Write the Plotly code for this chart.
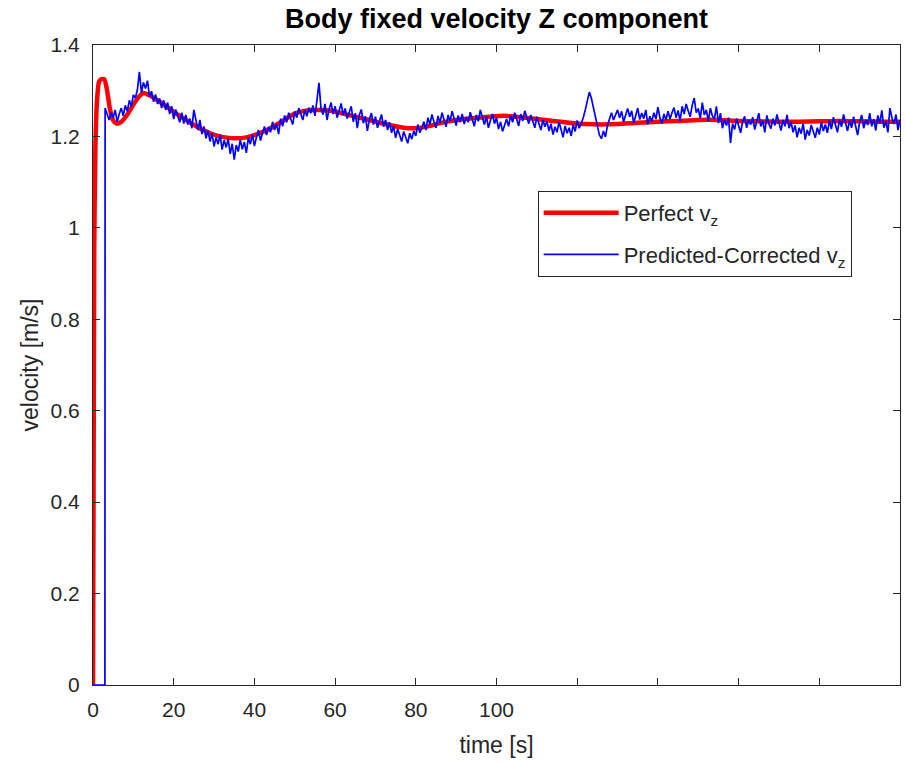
import numpy as np
import plotly.graph_objects as go

# ---------------- data ----------------
perfect_t = [0, 0.3, 0.6, 1.0, 1.5, 2.0, 2.8, 3.5, 4.2, 5.0, 5.8, 7, 8.5, 10, 11.5, 12.5,
             14, 16, 18, 20, 23, 26, 29, 32, 35, 38, 41, 44, 47, 50, 53, 56, 59, 62, 65,
             68, 71, 74, 77, 80, 83, 86, 90, 94, 98, 102, 106, 110, 114, 118, 122, 126,
             130, 135, 140, 145, 150, 155, 160, 165, 170, 175, 180, 185, 190, 195, 200]
perfect_v = [0, 0.95, 1.18, 1.28, 1.32, 1.325, 1.325, 1.30, 1.26, 1.235, 1.228, 1.232,
             1.248, 1.270, 1.288, 1.295, 1.290, 1.279, 1.267, 1.254, 1.236, 1.220, 1.207,
             1.199, 1.196, 1.198, 1.206, 1.218, 1.234, 1.250, 1.257, 1.258, 1.256, 1.250,
             1.243, 1.237, 1.230, 1.224, 1.219, 1.218, 1.222, 1.229, 1.236, 1.240, 1.243,
             1.245, 1.242, 1.238, 1.234, 1.230, 1.227, 1.226, 1.227, 1.230, 1.232, 1.234,
             1.236, 1.236, 1.234, 1.233, 1.232, 1.232, 1.233, 1.234, 1.233, 1.232, 1.232]

# predicted-corrected: zero before the filter starts, then samples every 0.5 s from t = 3.0 s
pc_start_t = [0, 2.95]
pc_start_v = [0, 0]
pc_t0 = 3.0
pc_dt = 0.5
pc_v = [
    1.262, 1.248, 1.236, 1.252, 1.241, 1.258, 1.232, 1.249, 1.262, 1.245, 1.268, 1.255, 1.279, 1.266, 1.291, 1.284, 1.302, 1.341, 1.296, 1.318,
    1.305, 1.322, 1.287, 1.299, 1.276, 1.292, 1.271, 1.283, 1.262, 1.279, 1.258, 1.274, 1.249, 1.266, 1.238, 1.259, 1.244, 1.231, 1.252, 1.228,
    1.247, 1.226, 1.239, 1.218, 1.258, 1.231, 1.214, 1.236, 1.205, 1.222, 1.196, 1.213, 1.189, 1.207, 1.178, 1.198, 1.183, 1.204, 1.171, 1.192,
    1.176, 1.195, 1.162, 1.184, 1.149, 1.181, 1.167, 1.193, 1.172, 1.188, 1.164, 1.197, 1.183, 1.205, 1.179, 1.198, 1.214, 1.191, 1.207, 1.222,
    1.203, 1.221, 1.209, 1.232, 1.214, 1.227, 1.205, 1.239, 1.222, 1.246, 1.231, 1.252, 1.238, 1.226, 1.255, 1.241, 1.262, 1.247, 1.236, 1.258,
    1.244, 1.263, 1.251, 1.268, 1.245, 1.279, 1.317, 1.262, 1.248, 1.271, 1.236, 1.259, 1.274, 1.249, 1.266, 1.241, 1.258, 1.272, 1.247, 1.261,
    1.239, 1.255, 1.266, 1.232, 1.251, 1.218, 1.247, 1.259, 1.229, 1.244, 1.212, 1.238, 1.251, 1.226, 1.243, 1.219, 1.235, 1.248, 1.221, 1.236,
    1.214, 1.231, 1.208, 1.222, 1.197, 1.216, 1.203, 1.189, 1.211, 1.198, 1.185, 1.207, 1.194, 1.212, 1.201, 1.226, 1.208, 1.219, 1.232, 1.214,
    1.241, 1.226, 1.248, 1.232, 1.219, 1.245, 1.229, 1.252, 1.236, 1.221, 1.247, 1.233, 1.255, 1.238, 1.224, 1.246, 1.231, 1.249, 1.227, 1.242,
    1.231, 1.253, 1.236, 1.222, 1.247, 1.233, 1.258, 1.239, 1.226, 1.244, 1.219, 1.235, 1.249, 1.228, 1.241, 1.216, 1.232, 1.211, 1.227, 1.238,
    1.222, 1.246, 1.231, 1.252, 1.238, 1.223, 1.249, 1.234, 1.256, 1.241, 1.228, 1.247, 1.232, 1.219, 1.243, 1.229, 1.214, 1.236, 1.221, 1.233,
    1.212, 1.228, 1.204, 1.221, 1.209, 1.232, 1.215, 1.198, 1.223, 1.207, 1.219, 1.201, 1.226, 1.211, 1.235, 1.218, 1.229, 1.241, 1.258, 1.276,
    1.297, 1.284, 1.262, 1.241, 1.218, 1.203, 1.195, 1.212, 1.199, 1.224, 1.238, 1.252, 1.236, 1.249, 1.258, 1.241, 1.255, 1.232, 1.247, 1.261,
    1.243, 1.256, 1.229, 1.248, 1.262, 1.237, 1.251, 1.239, 1.258, 1.226, 1.244, 1.233, 1.252, 1.238, 1.264, 1.241, 1.228, 1.249, 1.236, 1.255,
    1.238, 1.252, 1.263, 1.241, 1.257, 1.234, 1.266, 1.249, 1.271, 1.256, 1.243, 1.268, 1.284, 1.252, 1.261, 1.239, 1.274, 1.247, 1.258, 1.233,
    1.262, 1.245, 1.238, 1.266, 1.229, 1.251, 1.218, 1.236, 1.224, 1.241, 1.186, 1.228, 1.215, 1.239, 1.221, 1.208, 1.233, 1.244, 1.219, 1.236,
    1.226, 1.242, 1.215, 1.237, 1.251, 1.222, 1.234, 1.209, 1.246, 1.228, 1.217, 1.239, 1.224, 1.248, 1.231, 1.213, 1.236, 1.222, 1.247, 1.218,
    1.232, 1.209, 1.224, 1.198, 1.219, 1.206, 1.228, 1.193, 1.214, 1.202, 1.225, 1.211, 1.197, 1.219, 1.204, 1.231, 1.212, 1.226, 1.208, 1.235,
    1.216, 1.242, 1.224, 1.209, 1.237, 1.221, 1.248, 1.229, 1.212, 1.235, 1.219, 1.243, 1.226, 1.203, 1.232, 1.247, 1.218, 1.236, 1.225, 1.251,
    1.222, 1.238, 1.213, 1.246, 1.229, 1.257, 1.219, 1.234, 1.209, 1.262, 1.241, 1.227, 1.248, 1.214, 1.236,
]

x_tickvals = [0, 20, 40, 60, 80, 100]
x_ticktext = ["0", "20", "40", "60", "80", "100"]
x_unlabeled_ticks = [120, 140, 160, 180]
y_tickvals = [0, 0.2, 0.4, 0.6, 0.8, 1.0, 1.2, 1.4]
y_ticktext = ["0", "0.2", "0.4", "0.6", "0.8", "1", "1.2", "1.4"]

# ---------------- figure ----------------
pc_t_all = list(pc_start_t) + list(pc_t0 + pc_dt * np.arange(len(pc_v)))
pc_v_all = list(pc_start_v) + list(pc_v)

FONT = "Liberation Sans, Arial, Helvetica, sans-serif"
AX = "#262626"

fig = go.Figure()
fig.add_trace(go.Scatter(x=perfect_t, y=perfect_v, mode="lines", name="Perfect v<sub>z</sub>",
                         legendgroup="a",
                         line=dict(color="#ff0000", width=4.5, shape="spline", smoothing=0.6)))
fig.add_trace(go.Scatter(x=pc_t_all, y=pc_v_all, mode="lines", name="Predicted-Corrected v<sub>z</sub>",
                         legendgroup="b",
                         line=dict(color="#0000ff", width=1.7)))

axis_common = dict(showline=True, linecolor=AX, linewidth=1, mirror="ticks", ticks="inside",
                   tickcolor=AX, ticklen=7, tickwidth=1, showgrid=False, zeroline=False,
                   tickfont=dict(family=FONT, size=21, color=AX))

fig.update_xaxes(range=[0, 200], tickmode="array", tickvals=x_tickvals, ticktext=x_ticktext,
                 minor=dict(tickmode="array", tickvals=x_unlabeled_ticks, ticks="inside",
                            ticklen=7, tickwidth=1, tickcolor=AX, showgrid=False),
                 title=dict(text="time [s]", font=dict(family=FONT, size=23, color=AX), standoff=16),
                 ticklabelstandoff=6, **axis_common)
fig.update_yaxes(range=[0, 1.4], tickmode="array", tickvals=y_tickvals, ticktext=y_ticktext,
                 title=dict(text="velocity [m/s]", font=dict(family=FONT, size=23, color=AX), standoff=5),
                 ticklabelstandoff=8, **axis_common)

fig.update_layout(
    width=906, height=766,
    margin=dict(l=93, r=6, t=45, b=81, autoexpand=False),
    paper_bgcolor="white", plot_bgcolor="white",
    title=dict(text="<b>Body fixed velocity Z component</b>", x=0.548, xanchor="center",
               y=1 - 19 / 766, yanchor="middle", yref="container",
               font=dict(family=FONT, size=27, color="black")),
    legend=dict(x=0.551, y=0.772, xanchor="left", yanchor="top", bgcolor="white",
                bordercolor=AX, borderwidth=1, itemwidth=75, tracegroupgap=10,
                font=dict(family=FONT, size=22, color=AX)),
    showlegend=True,
)

fig.write_html("out.html")
